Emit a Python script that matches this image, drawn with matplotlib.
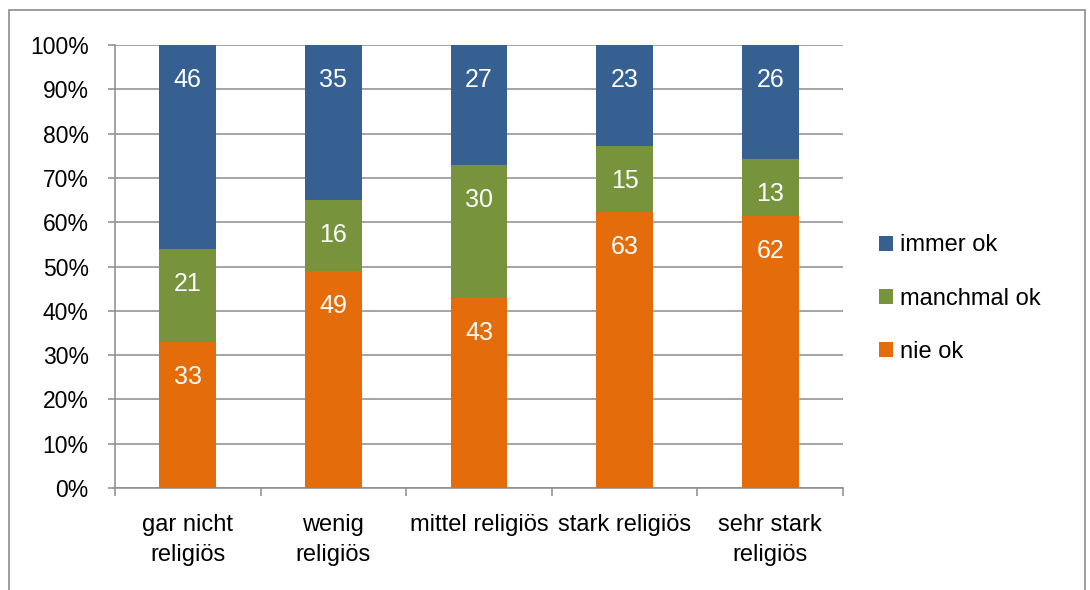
import matplotlib
matplotlib.use("Agg")
import matplotlib.pyplot as plt
from matplotlib.patches import Rectangle
from matplotlib.ticker import PercentFormatter
import numpy as np

plt.rcParams['font.family'] = ['Liberation Sans', 'DejaVu Sans']

categories = ["gar nicht\nreligiös", "wenig\nreligiös", "mittel religiös",
              "stark religiös", "sehr stark\nreligiös"]
nie_ok = [33, 49, 43, 63, 62]
manchmal_ok = [21, 16, 30, 15, 13]
immer_ok = [46, 35, 27, 23, 26]

series = [("nie ok", nie_ok, "#E46C0A"),
          ("manchmal ok", manchmal_ok, "#77933C"),
          ("immer ok", immer_ok, "#376092")]

W, H = 1090, 590
fig = plt.figure(figsize=(W / 100, H / 100), dpi=100)
ax = fig.add_axes([115 / W, 1 - 488 / H, 728 / W, 443 / H])

# frame around the whole chart
fig.patches.append(Rectangle((9 / W, -0.05), 1076 / W, 1.05 - 10 / H,
                             transform=fig.transFigure, fill=False,
                             edgecolor="#8c8c8c", linewidth=1.2))

x = np.arange(len(categories))
totals = np.sum([s[1] for s in series], axis=0)
bottom = np.zeros(len(categories))
handles = {}
for name, vals, color in series:
    h = np.array(vals) / totals * 100
    bars = ax.bar(x, h, width=0.39, bottom=bottom, color=color, zorder=3, label=name)
    handles[name] = bars
    # labels sit a fixed distance below the top of each segment
    for xi, top, v in zip(x, bottom + h, vals):
        ax.annotate(str(v), (xi, top), xytext=(0, -25.5), textcoords="offset points",
                    ha="center", va="center", color="white", fontsize=18, zorder=4)
    bottom += h

ax.set_xlim(-0.5, len(categories) - 0.5)
ax.set_ylim(0, 100)
ax.set_yticks(np.arange(0, 101, 10))
ax.yaxis.set_major_formatter(PercentFormatter(decimals=0))
ax.grid(axis="y", color="#8c8c8c", linewidth=1.1, zorder=0)

ax.set_xticks(np.arange(-0.5, len(categories), 1.0))
ax.set_xticklabels([])
ax.set_xticks(x, minor=True)
ax.set_xticklabels(categories, minor=True, fontsize=17, linespacing=1.48)
ax.tick_params(axis="x", which="minor", length=0, pad=18.5)
ax.tick_params(axis="x", which="major", length=6, color="#8c8c8c", width=1.1)
ax.tick_params(axis="y", length=5, color="#8c8c8c", width=1.1, labelsize=16.5, pad=14)

for s in ["top", "right"]:
    ax.spines[s].set_visible(False)
for s in ["left", "bottom"]:
    ax.spines[s].set_color("#8c8c8c")
    ax.spines[s].set_linewidth(1.1)

leg = ax.legend([handles["immer ok"], handles["manchmal ok"], handles["nie ok"]],
                ["immer ok", "manchmal ok", "nie ok"],
                loc="center left", bbox_to_anchor=(764 / 728, 0.427),
                frameon=False, fontsize=17, handlelength=0.6, handleheight=0.6,
                handletextpad=0.3, labelspacing=1.33, borderaxespad=0, borderpad=0)

fig.savefig("out.png", dpi=100)
